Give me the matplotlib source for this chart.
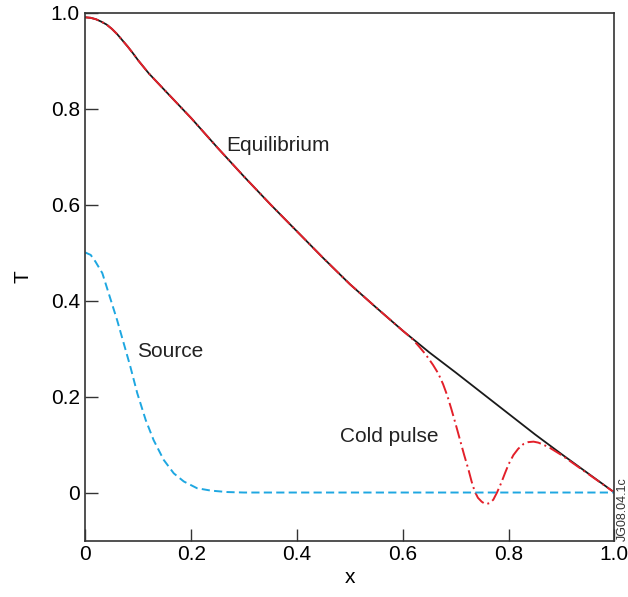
import numpy as np
import matplotlib
matplotlib.use("Agg")
import matplotlib.pyplot as plt

plt.rcParams['font.family'] = ['Liberation Sans', 'DejaVu Sans']

# equilibrium profile
eq_x = [0, 0.01, 0.02, 0.03, 0.04, 0.05, 0.06, 0.07, 0.08, 0.09, 0.10, 0.12,
        0.15, 0.20, 0.25, 0.30, 0.35, 0.40, 0.45, 0.50, 0.55, 0.60, 0.65,
        0.70, 0.75, 0.80, 0.85, 0.90, 0.95, 1.0]
eq_y = [0.990, 0.989, 0.986, 0.981, 0.975, 0.966, 0.955, 0.942, 0.929, 0.915,
        0.900, 0.873, 0.838, 0.780, 0.718, 0.658, 0.600, 0.544, 0.488, 0.434,
        0.385, 0.337, 0.292, 0.250, 0.207, 0.164, 0.121, 0.080, 0.040, 0.0]

# cold pulse (same as equilibrium up to x=0.6)
cp_x = eq_x[:22] + [0.617, 0.630, 0.643, 0.657, 0.667, 0.676, 0.684, 0.692,
                    0.700, 0.708, 0.716, 0.724, 0.730, 0.736, 0.742, 0.749,
                    0.753, 0.758, 0.764, 0.771, 0.778, 0.786, 0.793, 0.800,
                    0.809, 0.818, 0.828, 0.837, 0.847, 0.856, 0.865, 0.878,
                    0.90, 0.95, 1.0]
cp_y = eq_y[:22] + [0.321, 0.305, 0.288, 0.266, 0.248, 0.226, 0.202, 0.173,
                    0.142, 0.110, 0.078, 0.048, 0.023, 0.002, -0.011, -0.019,
                    -0.022, -0.024, -0.022, -0.015, 0.0, 0.020, 0.040, 0.059,
                    0.078, 0.091, 0.101, 0.105, 0.106, 0.104, 0.100, 0.093,
                    0.078, 0.039, 0.0]

# heating source
src_x = [0, 0.01, 0.019, 0.032, 0.044, 0.060, 0.076, 0.085, 0.098, 0.114,
         0.129, 0.148, 0.167, 0.186, 0.211, 0.237, 0.268, 0.30, 1.0]
src_y = [0.5, 0.495, 0.481, 0.457, 0.415, 0.359, 0.297, 0.262, 0.207, 0.151,
         0.109, 0.068, 0.040, 0.023, 0.009, 0.004, 0.001, 0.0, 0.0]

fig = plt.figure(figsize=(6.28, 5.97), dpi=100)
ax = fig.add_axes([0.136, 0.0946, 0.8424, 0.8844])

ax.plot(eq_x, eq_y, color='#1a1a1a', lw=1.3)
ax.plot(cp_x, cp_y, color='#e3202a', lw=1.4, dashes=(7, 2, 1, 2))
ax.plot(src_x, src_y, color='#1ea7e1', lw=1.4, dashes=(4.2, 2.2))

ax.set_xlim(0, 1.0)
ax.set_ylim(-0.1, 1.0)
ax.set_xticks([0, 0.2, 0.4, 0.6, 0.8, 1.0])
ax.set_xticklabels(['0', '0.2', '0.4', '0.6', '0.8', '1.0'])
ax.set_yticks([0, 0.2, 0.4, 0.6, 0.8, 1.0])
ax.set_yticklabels(['0', '0.2', '0.4', '0.6', '0.8', '1.0'])
ax.tick_params(direction='in', length=9, width=1, labelsize=15, color='#333333')
ax.tick_params(axis='x', pad=3)
ax.tick_params(axis='y', pad=4)
for s in ax.spines.values():
    s.set_linewidth(1.2)
    s.set_color('#333333')

ax.set_xlabel('x', fontsize=15, labelpad=3)
ax.set_ylabel('T', fontsize=15, labelpad=13)

ax.text(0.266, 0.722, 'Equilibrium', fontsize=15, va='center', color='#222222')
ax.text(0.097, 0.293, 'Source', fontsize=15, va='center', color='#222222')
ax.text(0.481, 0.116, 'Cold pulse', fontsize=15, va='center', color='#222222')

fig.text(0.991, 0.094, 'JG08.04.1c', rotation=90, fontsize=9, ha='center', va='bottom',
         color='#333333')

fig.savefig('out.png', dpi=100)
